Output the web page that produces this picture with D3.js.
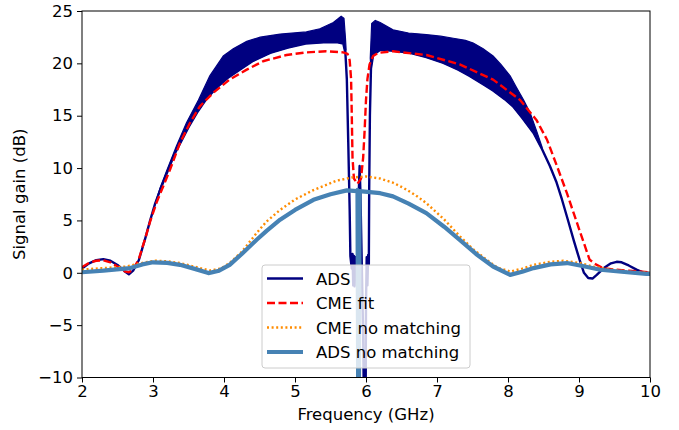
<!DOCTYPE html>
<html>
<head>
<meta charset="utf-8">
<script src="https://cdn.jsdelivr.net/npm/d3@7"></script>
<style>
  body { margin: 0; background: #fff; }
  svg { font-family: "DejaVu Sans", sans-serif; }
</style>
</head>
<body>
<div id="chart"></div>
<script>
var width = 679, height = 430;
var margin = { top: 11, right: 29, bottom: 52.5, left: 82 };
var fontSize = '16.5px';

var xTicks = [2, 3, 4, 5, 6, 7, 8, 9, 10];
var yTicks = [-10, -5, 0, 5, 10, 15, 20, 25];
var seriesNames = ['ADS', 'CME fit', 'CME no matching', 'ADS no matching'];

// ADS (solid navy), lower edge of the oscillating band
var adsFreq = [2.0, 2.1, 2.2, 2.3, 2.4, 2.5, 2.6, 2.66, 2.72, 2.8, 2.9, 2.96, 3.03, 3.1, 3.2, 3.3, 3.4, 3.5, 3.62, 3.75, 3.9, 4.05, 4.2, 4.4, 4.65, 4.9, 5.15, 5.4, 5.6, 5.68, 5.71,
    5.73, 5.75, 5.77, 5.78, 5.80, 5.81, 5.82, 5.83, 5.84, 5.85, 5.86, 5.88, 5.90, 5.91, 5.92, 5.94, 5.96, 5.97, 5.995, 6.00, 6.01, 6.02, 6.03, 6.04, 6.045, 6.055, 6.07,
    6.1, 6.2, 6.4, 6.62, 6.85, 7.09, 7.3, 7.46, 7.65, 7.79, 7.95, 8.07, 8.2, 8.36, 8.48, 8.59, 8.68, 8.76, 8.85, 8.93, 9.01, 9.07, 9.13, 9.19, 9.25, 9.35, 9.45, 9.53, 9.6, 9.7, 9.81, 9.9, 10.0];
var adsGain = [0.4, 0.9, 1.2, 1.3, 1.15, 0.75, 0.15, -0.15, 0.2, 1.2, 3.5, 5.0, 6.6, 7.9, 9.6, 11.3, 12.6, 13.9, 15.3, 16.6, 17.7, 18.6, 19.3, 20.2, 21.0, 21.5, 21.9, 22.0, 22.0, 21.9, 21.0,
    18.5, 12.5, 6.0, 1.6, 0.4, 1.8, -1.2, 1.6, -1.3, 1.5, 0.5, 2.0, 8.0, 10.2, 8.0, 1.0, -6.0, -12, -12, -3, 1.5, -1.2, 1.7, 0.8, 8.0, 15.0, 19.5,
    20.8, 21.3, 21.2, 21.0, 20.6, 20.05, 19.4, 18.8, 18.0, 17.4, 16.6, 15.9, 14.8, 13.35, 11.8, 10.2, 8.7, 7.0, 4.9, 3.0, 1.2, 0.0, -0.5, -0.55, -0.2, 0.45, 0.9, 1.05, 1.0, 0.7, 0.3, 0.05, -0.05];

// upper envelope of the ADS oscillation, left and right of the notch
var bandLeftFreq = [3.03, 3.1, 3.19, 3.33, 3.47, 3.64, 3.80, 3.99, 4.13, 4.32, 4.51, 4.79, 5.16, 5.35, 5.54, 5.65, 5.69, 5.71, 5.72];
var bandLeftGain = [6.6, 8.1, 9.7, 12.1, 14.3, 16.5, 18.8, 20.7, 21.4, 22.1, 22.5, 22.8, 23.0, 23.3, 23.9, 24.5, 24.3, 22.5, 21.3];
var bandRightFreq = [6.06, 6.08, 6.13, 6.2, 6.38, 6.6, 6.85, 7.05, 7.23, 7.4, 7.51, 7.65, 7.79, 7.9, 8.03, 8.12, 8.22, 8.31, 8.4, 8.48];
var bandRightGain = [20.5, 23.8, 24.1, 23.9, 23.2, 22.9, 22.75, 22.6, 22.4, 22.2, 21.95, 21.4, 20.7, 19.9, 18.8, 17.7, 16.5, 15.3, 13.6, 12.0];

// CME fit (red dashed)
var cmeFitFreq = [2.0, 2.1, 2.2, 2.3, 2.4, 2.5, 2.6, 2.66, 2.72, 2.8, 2.9, 2.96, 3.05, 3.24, 3.38, 3.52, 3.66, 3.85, 4.08, 4.32, 4.55, 4.88, 5.16, 5.44, 5.68, 5.74, 5.77, 5.79,
    5.80, 5.81, 5.83, 5.88, 5.93, 5.96, 5.98, 6.0, 6.02, 6.05, 6.1, 6.17, 6.38, 6.85, 7.32, 7.79, 8.17, 8.4, 8.55, 8.7, 8.83, 9.0, 9.15, 9.25, 9.34, 9.5, 9.7, 10.0];
var cmeFitGain = [0.55, 0.95, 1.15, 1.2, 1.0, 0.6, 0.15, 0.05, 0.3, 1.3, 3.5, 4.9, 6.7, 9.85, 12.4, 14.3, 15.9, 17.2, 18.45, 19.4, 20.2, 20.8, 21.05, 21.15, 21.05, 20.9, 20.3, 18.5,
    15.0, 11.0, 9.0, 8.5, 9.0, 11.0, 13.5, 16.5, 18.5, 19.9, 20.7, 21.0, 21.15, 20.8, 19.9, 18.45, 16.5, 14.6, 12.7, 10.0, 7.6, 4.2, 1.24, 0.75, 0.45, 0.3, 0.2, 0.05];

// CME no matching (orange dotted)
var cmeNoFreq = [2.0, 2.3, 2.63, 2.85, 3.03, 3.2, 3.38, 3.6, 3.8, 3.95, 4.08, 4.25, 4.46, 4.6, 4.79, 5.0, 5.26, 5.59, 5.8, 6.0, 6.2, 6.38, 6.53, 6.7, 6.85, 7.1, 7.32, 7.5, 7.7, 7.85, 8.03, 8.2, 8.36, 8.6, 8.78, 9.0, 9.2, 9.44, 9.7, 10.0];
var cmeNoGain = [0.3, 0.45, 0.6, 0.95, 1.15, 1.1, 0.93, 0.55, 0.22, 0.4, 0.93, 2.0, 3.8, 4.9, 6.0, 7.0, 7.9, 8.8, 9.1, 9.2, 9.0, 8.6, 8.1, 7.4, 6.65, 5.1, 3.5, 2.3, 1.24, 0.5, 0.12, 0.4, 0.76, 1.05, 1.15, 0.95, 0.6, 0.3, 0.1, 0.0];

// ADS no matching (steelblue)
var adsNoFreq = [2.0, 2.3, 2.68, 2.85, 3.0, 3.2, 3.38, 3.6, 3.78, 3.93, 4.08, 4.25, 4.46, 4.6, 4.79, 5.0, 5.26, 5.5, 5.73, 5.87, 5.88, 5.89, 5.9, 5.91, 6.2, 6.38, 6.6, 6.85, 7.1, 7.32, 7.55, 7.79, 8.03, 8.2, 8.36, 8.6, 8.83, 9.05, 9.3, 9.6, 9.95, 10.0];
var adsNoGain = [0.05, 0.2, 0.45, 0.8, 1.0, 0.95, 0.76, 0.35, -0.03, 0.2, 0.76, 1.8, 3.15, 4.0, 5.07, 6.0, 6.97, 7.5, 7.87, 7.8, 7.9, -12, -12, 7.8, 7.6, 7.3, 6.6, 5.7, 4.4, 3.15, 1.8, 0.6, -0.2, 0.1, 0.45, 0.8, 0.93, 0.65, 0.29, 0.1, -0.1, -0.1];

function zip(f, g) {
    return f.map((d, i) => ({ f: d, g: g[i] }));
}

var ads = zip(adsFreq, adsGain);
var series = [
    { name: seriesNames[1], data: zip(cmeFitFreq, cmeFitGain), color: '#ff0000', width: 2.4, dash: '8,3.5' },
    { name: seriesNames[2], data: zip(cmeNoFreq, cmeNoGain), color: '#ff8c00', width: 2.4, dash: '2,2.6' },
    { name: seriesNames[3], data: zip(adsNoFreq, adsNoGain), color: '#4682b4', width: 4.2, dash: null }
];

var innerW = width - margin.left - margin.right;
var innerH = height - margin.top - margin.bottom;

var x = d3.scaleLinear().domain([2, 10]).range([0, innerW]);
var y = d3.scaleLinear().domain([-10, 25]).range([innerH, 0]);

var svg = d3.select('#chart').append('svg')
    .attr('width', width)
    .attr('height', height);

svg.append('defs').append('clipPath').attr('id', 'clip')
    .append('rect').attr('width', innerW).attr('height', innerH);

var g = svg.append('g')
    .attr('transform', 'translate(' + margin.left + ',' + margin.top + ')');

var plot = g.append('g').attr('clip-path', 'url(#clip)');

var line = d3.line().x((d) => x(d.f)).y((d) => y(d.g));

// band polygons: upper envelope forward, ADS line back
function band(fs, gs) {
    var top = zip(fs, gs);
    var lo = fs[0], hi = fs[fs.length - 1];
    var bottom = ads.filter((d) => d.f >= lo && d.f <= hi).reverse();
    return top.concat(bottom);
}

plot.append('path')
    .attr('d', line(ads))
    .attr('fill', 'none')
    .attr('stroke', '#000080')
    .attr('stroke-width', 2.4)
    .attr('stroke-linejoin', 'round');

[band(bandLeftFreq, bandLeftGain), band(bandRightFreq, bandRightGain)].forEach(function (b) {
    plot.append('path')
        .attr('d', line(b) + 'Z')
        .attr('fill', '#000080')
        .attr('stroke', '#000080')
        .attr('stroke-width', 1.2);
});

series.forEach(function (s) {
    plot.append('path')
        .attr('d', line(s.data))
        .attr('fill', 'none')
        .attr('stroke', s.color)
        .attr('stroke-width', s.width)
        .attr('stroke-dasharray', s.dash)
        .attr('stroke-linejoin', 'round');
});

// axes
var xAxis = g.append('g')
    .attr('transform', 'translate(0,' + innerH + ')')
    .call(d3.axisBottom(x).tickValues(xTicks).tickSize(5).tickPadding(3).tickFormat(d3.format('d')));
var yAxis = g.append('g')
    .call(d3.axisLeft(y).tickValues(yTicks).tickSize(5).tickPadding(4).tickFormat(d3.format('d')));

[xAxis, yAxis].forEach(function (a) {
    a.select('.domain').remove();
    a.selectAll('line').attr('stroke', '#000').attr('stroke-width', 1);
    a.selectAll('text').attr('fill', '#000').style('font-size', fontSize).style('font-family', '"DejaVu Sans", sans-serif');
});

g.append('rect')
    .attr('width', innerW)
    .attr('height', innerH)
    .attr('fill', 'none')
    .attr('stroke', '#000')
    .attr('stroke-width', 1);

svg.append('text')
    .attr('x', margin.left + innerW / 2)
    .attr('y', 420)
    .attr('text-anchor', 'middle')
    .style('font-size', fontSize)
    .text('Frequency (GHz)');

svg.append('text')
    .attr('transform', 'translate(25,' + (margin.top + innerH / 2) + ') rotate(-90)')
    .attr('text-anchor', 'middle')
    .style('font-size', fontSize)
    .text('Signal gain (dB)');

// legend
var legend = svg.append('g').attr('transform', 'translate(262,265)');
legend.append('rect')
    .attr('width', 208)
    .attr('height', 103)
    .attr('rx', 3)
    .attr('fill', '#fff')
    .attr('fill-opacity', 0.8)
    .attr('stroke', '#cccccc')
    .attr('stroke-width', 1);

var legendItems = [
    { name: seriesNames[0], color: '#000080', width: 2.4, dash: null }
].concat(series);

legendItems.forEach(function (s, i) {
    var ly = 13.5 + i * 24.5;
    legend.append('line')
        .attr('x1', 5).attr('x2', 41)
        .attr('y1', ly).attr('y2', ly)
        .attr('stroke', s.color)
        .attr('stroke-width', s.width)
        .attr('stroke-dasharray', s.dash);
    legend.append('text')
        .attr('x', 54)
        .attr('y', ly + 6)
        .style('font-size', fontSize)
        .text(s.name);
});
</script>
</body>
</html>
